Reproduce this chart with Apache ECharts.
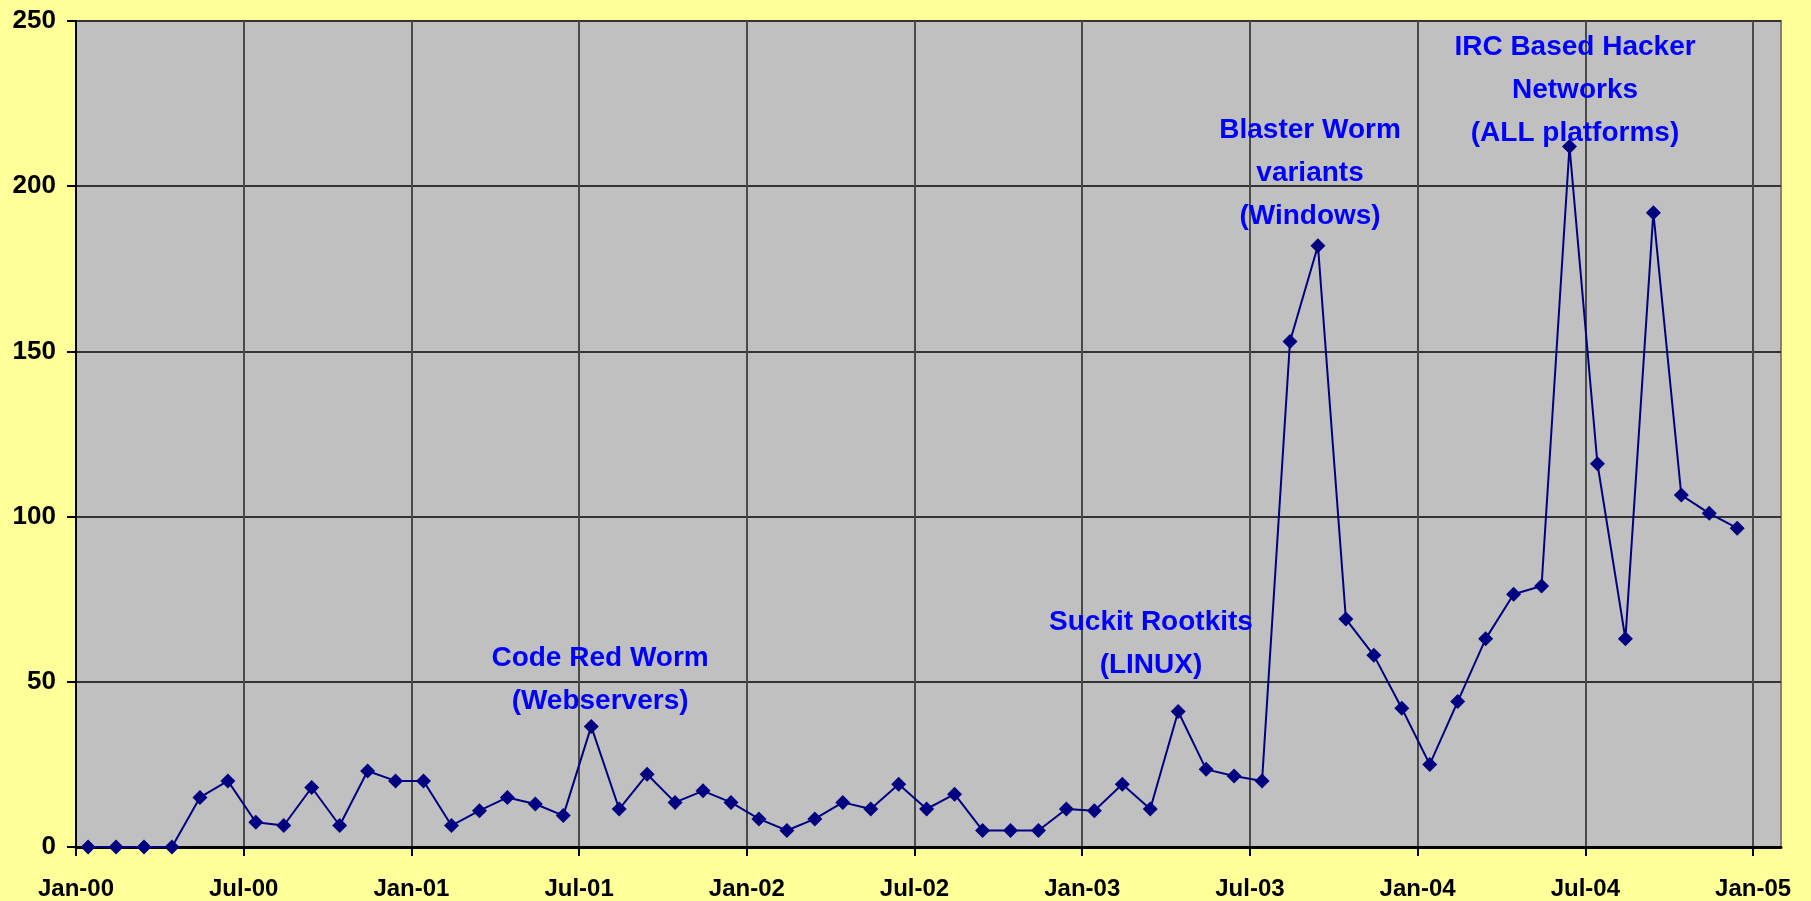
<!DOCTYPE html>
<html>
<head>
<meta charset="utf-8">
<script src="https://cdn.jsdelivr.net/npm/echarts@6/dist/echarts.min.js"></script>
<style>
  html, body { margin: 0; padding: 0; background: #FFFF99; }
  #chart { width: 1811px; height: 901px; }
</style>
</head>
<body>
<div id="chart"></div>
<script>
// Monthly observations, Jan 2000 – Dec 2004
const months = [
  'Jan-00','Feb-00','Mar-00','Apr-00','May-00','Jun-00','Jul-00','Aug-00','Sep-00','Oct-00','Nov-00','Dec-00',
  'Jan-01','Feb-01','Mar-01','Apr-01','May-01','Jun-01','Jul-01','Aug-01','Sep-01','Oct-01','Nov-01','Dec-01',
  'Jan-02','Feb-02','Mar-02','Apr-02','May-02','Jun-02','Jul-02','Aug-02','Sep-02','Oct-02','Nov-02','Dec-02',
  'Jan-03','Feb-03','Mar-03','Apr-03','May-03','Jun-03','Jul-03','Aug-03','Sep-03','Oct-03','Nov-03','Dec-03',
  'Jan-04','Feb-04','Mar-04','Apr-04','May-04','Jun-04','Jul-04','Aug-04','Sep-04','Oct-04','Nov-04','Dec-04'
];
const incidents = [
  0, 0, 0, 0, 15, 20, 7.5, 6.5, 18, 6.5, 23, 20,
  20, 6.5, 11, 15, 13, 9.5, 36.5, 11.5, 22, 13.5, 17, 13.5,
  8.5, 5, 8.5, 13.5, 11.5, 19, 11.5, 16, 5, 5, 5, 11.5,
  11, 19, 11.5, 41, 23.5, 21.5, 20, 153, 182, 69, 58, 42,
  25, 44, 63, 76.5, 79, 212, 116, 63, 192, 106.5, 101, 96.5
];
// Date-axis labels every six months
const tickLabels = ['Jan-00','Jul-00','Jan-01','Jul-01','Jan-02','Jul-02','Jan-03','Jul-03','Jan-04','Jul-04','Jan-05'];
const tickMonths = tickLabels.map((_, k) => k * 6);
// Each observation falls on the 14th of its month
const OBS_DAY = 14;
// Callouts: text, month position, value position
const calloutText = [
  'Code Red Worm\n(Webservers)',
  'Suckit Rootkits\n(LINUX)',
  'Blaster Worm\nvariants\n(Windows)',
  'IRC Based Hacker\nNetworks\n(ALL platforms)'
];
const calloutMonth = [18.75, 38.46, 44.15, 53.63];
const calloutValue = [50.6, 61.5, 203.8, 229.0];

const LABEL_FONT = "'Liberation Sans', Arial, sans-serif";

const chart = echarts.init(document.getElementById('chart'), null, { renderer: 'canvas' });

chart.setOption({
  animation: false,
  backgroundColor: '#FFFF99',
  grid: {
    left: 76, right: 30, top: 21, bottom: 54,
    show: true,
    backgroundColor: '#C0C0C0',
    borderColor: '#808080',
    borderWidth: 2,
    outerBoundsMode: 'none'
  },
  xAxis: {
    type: 'value',
    min: 0,
    max: 61,
    interval: 6,
    axisLine: { show: true, onZero: false, lineStyle: { color: '#000000', width: 3 } },
    axisTick: { show: true, inside: false, length: 9, customValues: tickMonths,
                lineStyle: { color: '#000000', width: 2 } },
    axisLabel: {
      customValues: tickMonths,
      formatter: v => tickLabels[Math.round(v / 6)] || '',
      margin: 30,
      color: '#000000',
      fontSize: 24,
      fontWeight: 'bold',
      fontFamily: LABEL_FONT
    },
    splitLine: { show: true, lineStyle: { color: '#4a4a4a', width: 2 } }
  },
  yAxis: {
    type: 'value',
    min: 0,
    max: 250,
    interval: 50,
    axisLine: { show: true, lineStyle: { color: '#000000', width: 2 } },
    axisTick: { show: true, inside: false, length: 9, lineStyle: { color: '#000000', width: 2 } },
    axisLabel: {
      margin: 20,
      color: '#000000',
      fontSize: 26,
      fontWeight: 'bold',
      fontFamily: LABEL_FONT
    },
    splitLine: { show: true, lineStyle: { color: '#333333', width: 2 } }
  },
  series: [{
    type: 'line',
    data: incidents.map((v, i) => [i + (OBS_DAY - 1) / 30, v]),
    symbol: 'diamond',
    symbolSize: 15,
    showAllSymbol: true,
    itemStyle: { color: '#000080' },
    lineStyle: { color: '#000080', width: 2 },
    markPoint: {
      silent: true,
      symbol: 'rect',
      symbolSize: 1,
      itemStyle: { color: 'transparent' },
      data: calloutText.map((t, k) => ({
        coord: [calloutMonth[k], calloutValue[k]],
        label: {
          show: true,
          position: 'inside',
          formatter: t,
          color: '#0000FF',
          fontSize: 28,
          fontWeight: 'bold',
          lineHeight: 43,
          align: 'center',
          fontFamily: LABEL_FONT
        }
      }))
    }
  }]
});
</script>
</body>
</html>
